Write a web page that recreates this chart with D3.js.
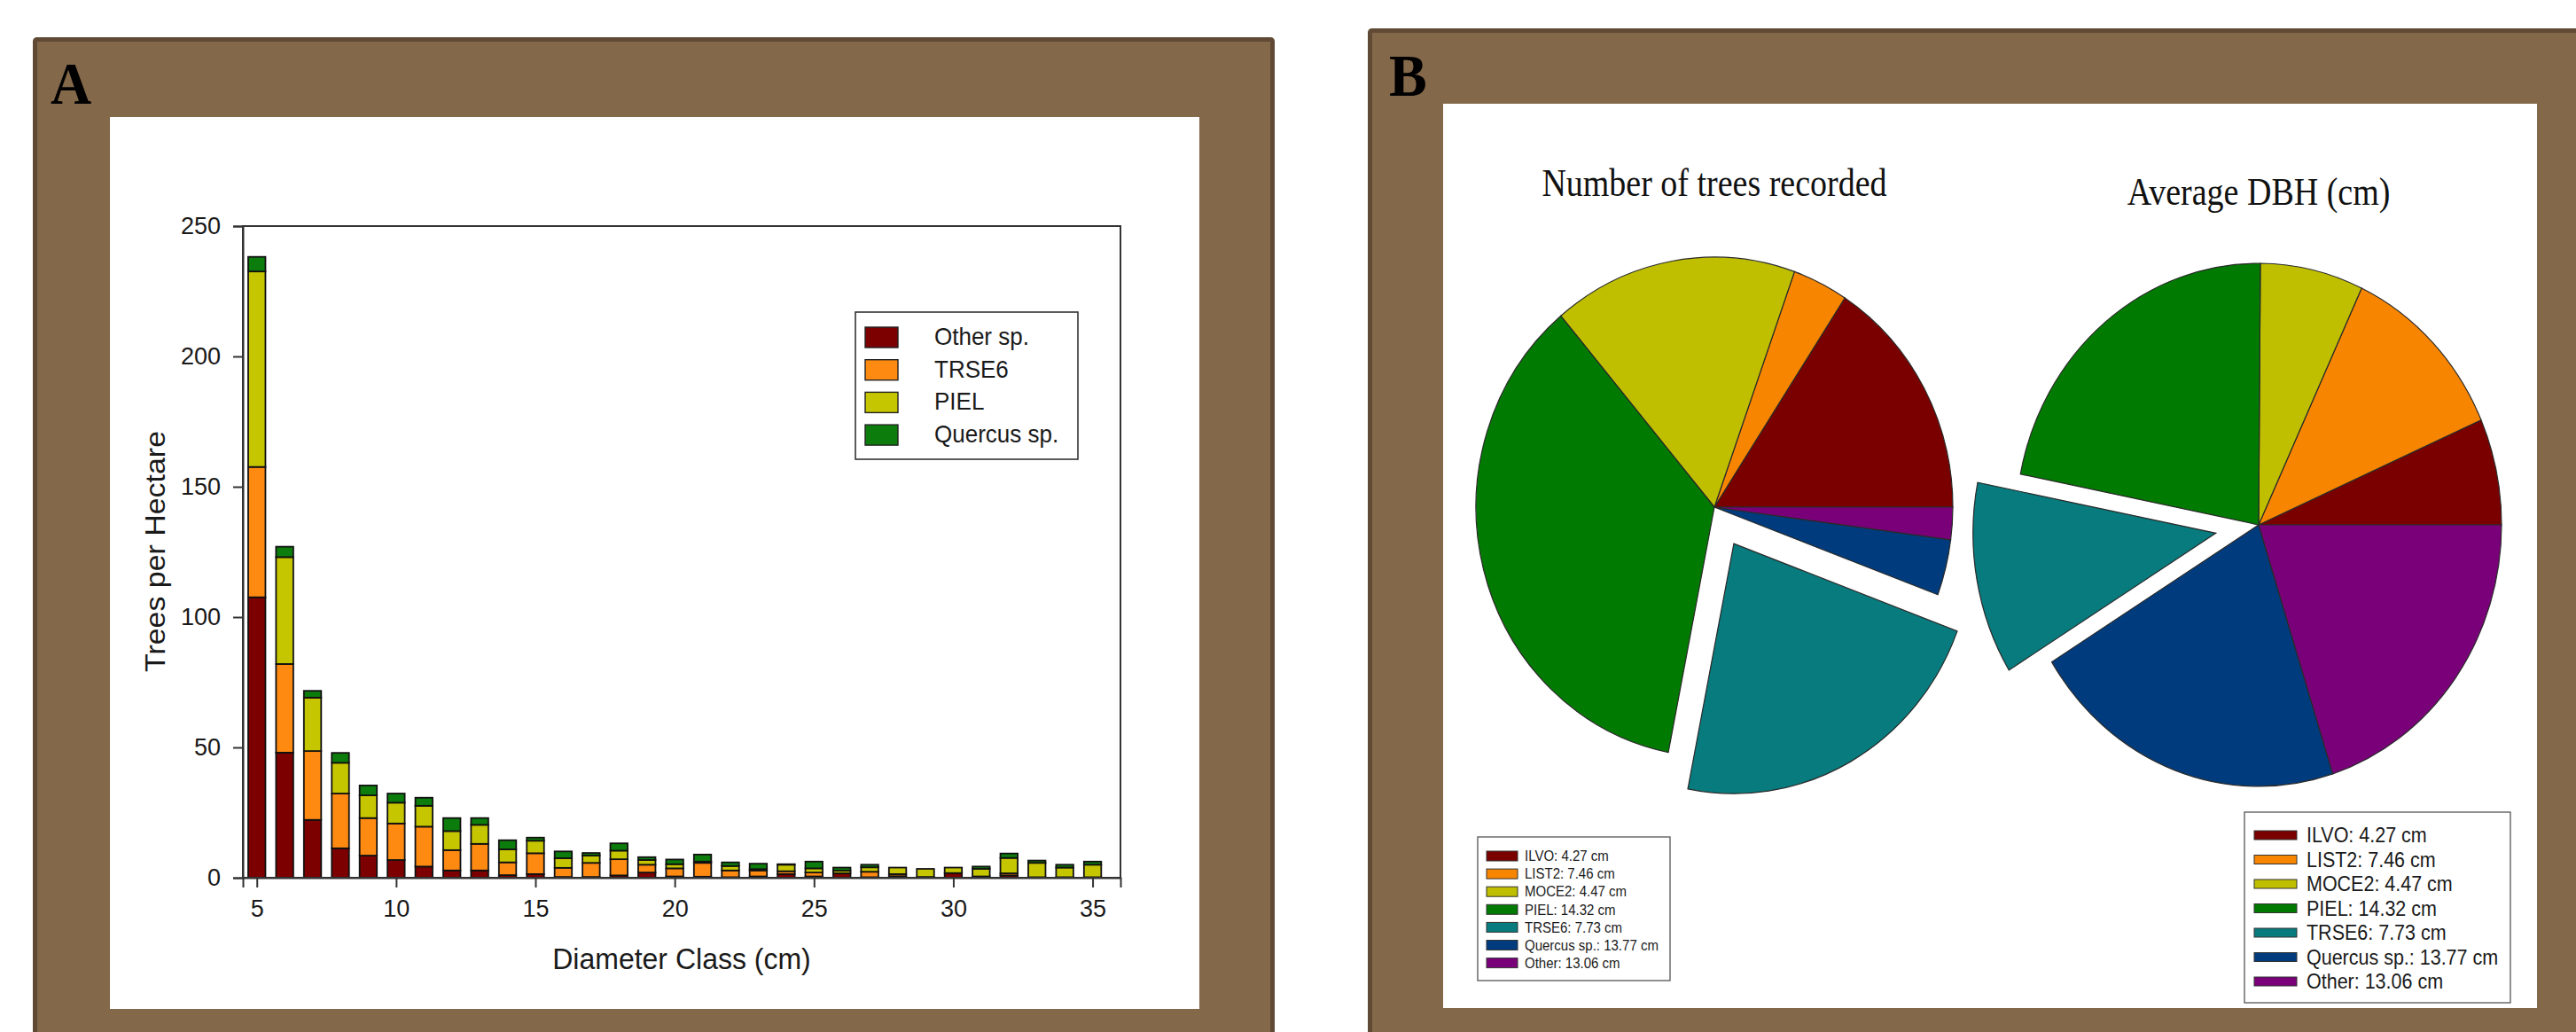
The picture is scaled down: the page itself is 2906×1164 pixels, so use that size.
<!DOCTYPE html>
<html>
<head>
<meta charset="utf-8">
<script src="https://cdn.jsdelivr.net/npm/d3@7"></script>
<style>
  html, body { margin: 0; padding: 0; background: #fff; }
  svg { display: block; }
</style>
</head>
<body>
<svg id="fig" width="2906" height="1164"></svg>
<script>
// ---------- Panel A: stand structure by diameter class ----------
const diameterClasses = [5, 6, 7, 8, 9, 10, 11, 12, 13, 14, 15, 16, 17, 18, 19, 20,
                         21, 22, 23, 24, 25, 26, 27, 28, 29, 30, 31, 32, 33, 34, 35];
const otherSp   = [107.6, 48, 22.2, 11.3, 8.5, 6.8, 4.3, 2.8, 2.8, 1.0, 1.4, 0.3, 0.3, 0.9, 2.0, 0.5,
                   0.4, 0.2, 0.5, 1.4, 0.5, 1.7, 0.2, 0.6, 0.3, 1.8, 0.5, 0.9, 0.2, 0.2, 0.2];
const trse6     = [50, 34, 26.4, 21, 14.4, 14, 15.3, 7.8, 10.2, 4.9, 8.0, 3.5, 5.4, 6.2, 3.0, 3.1,
                   5.3, 2.6, 2.3, 1.1, 1.5, 0, 2.1, 0.8, 0, 0, 0, 0.8, 0, 0, 0];
const piel      = [75, 41, 20.5, 11.8, 8.7, 8, 8, 7.3, 7.3, 5.0, 4.8, 3.7, 2.8, 3.3, 1.8, 1.6,
                   0.5, 1.7, 0.5, 2.5, 1.6, 1.0, 1.7, 2.5, 3.1, 2.1, 2.9, 5.9, 5.5, 3.7, 4.8];
const quercusSp = [5.6, 4, 2.6, 3.8, 3.8, 3.5, 3.1, 5.0, 2.6, 3.5, 1.2, 2.6, 1.0, 2.8, 1.1, 1.8,
                   2.7, 1.4, 2.1, 0.2, 2.6, 1.2, 1.0, 0, 0, 0, 0.9, 1.7, 0.9, 1.1, 1.2];
const barSeries = ["Other sp.", "TRSE6", "PIEL", "Quercus sp."];
const barColors = ["#7d0000", "#ff8a12", "#c6c600", "#0c7c0c"];
const yTicksA = [0, 50, 100, 150, 200, 250];
const xTicksA = [5, 10, 15, 20, 25, 30, 35];

// ---------- Panel B: species composition ----------
const species     = ["ILVO", "LIST2", "MOCE2", "PIEL", "TRSE6", "Quercus sp.", "Other"];
const treeShare   = [15.8, 3.75, 16.6, 35.8, 22.4, 3.6, 2.1];   // % of trees recorded
const averageDbh  = [4.27, 7.46, 4.47, 14.32, 7.73, 13.77, 13.06]; // cm
const pieColors   = ["#7a0000", "#f78500", "#bfbf00", "#007a00", "#077b7e", "#003c7d", "#7a007a"];
const legendLabels = species.map((s, i) => `${s}: ${averageDbh[i].toFixed(2)} cm`);

const svg = d3.select("#fig");
const SANS = "'Liberation Sans', Arial, sans-serif";
const SERIF = "'Liberation Serif', 'Times New Roman', serif";

// text that is slightly taller than its font's natural proportions
function tallText(parent, x, y, str, opts) {
  const k = opts.stretch || 1.06;
  const t = parent.append("text")
    .attr("transform", `translate(${x},${y})${opts.rotate ? ` rotate(${opts.rotate})` : ""} scale(${opts.rotate ? k : 1},${opts.rotate ? 1 : k})`)
    .attr("font-family", opts.family || SANS).attr("font-size", opts.size)
    .attr("fill", opts.fill || "#222").text(str);
  if (opts.anchor) t.attr("text-anchor", opts.anchor);
  if (opts.weight) t.attr("font-weight", opts.weight);
  return t;
}

// brown mounting frames
function frame(x, y, w, h, letter, lx, ly, inner) {
  svg.append("rect").attr("x", x).attr("y", y).attr("width", w).attr("height", h)
    .attr("fill", "#84684a").attr("stroke", "#604a35").attr("stroke-width", 5).attr("rx", 2);
  svg.append("rect").attr("x", inner[0]).attr("y", inner[1])
    .attr("width", inner[2] - inner[0]).attr("height", inner[3] - inner[1]).attr("fill", "#fff");
  tallText(svg, lx, ly, letter, { family: SERIF, weight: "bold", size: 64, fill: "#000", stretch: 1.07 });
}
frame(39.5, 44.5, 1396, 1160, "A", 57, 117, [124, 132, 1353, 1138]);
frame(1545.5, 34.5, 1400, 1170, "B", 1567, 108, [1628, 117, 2862, 1137]);

// ---------- Panel A chart ----------
const gA = svg.append("g");
const x = d3.scaleLinear().domain([4.5, 36]).range([274, 1264]);
const y = d3.scaleLinear().domain([0, 250]).range([990, 255]);

const rows = diameterClasses.map((d, i) => ({
  dc: d, "Other sp.": otherSp[i], "TRSE6": trse6[i], "PIEL": piel[i], "Quercus sp.": quercusSp[i]
}));
const stack = d3.stack().keys(barSeries)(rows);
const barW = x(5.31) - x(4.69);

stack.forEach((layer, li) => {
  gA.append("g").selectAll("rect").data(layer).join("rect")
    .attr("x", d => x(d.data.dc) - barW / 2)
    .attr("y", d => y(d[1]))
    .attr("width", barW)
    .attr("height", d => Math.max(0, y(d[0]) - y(d[1])))
    .attr("fill", barColors[li])
    .attr("stroke", "#111").attr("stroke-width", 1.8);
});

// plot frame
gA.append("rect").attr("x", x(4.5)).attr("y", y(250))
  .attr("width", x(36) - x(4.5)).attr("height", y(0) - y(250))
  .attr("fill", "none").attr("stroke", "#333").attr("stroke-width", 2);

const xAxis = gA.append("g").attr("transform", `translate(0,${y(0)})`)
  .call(d3.axisBottom(x).tickValues(xTicksA).tickSize(11).tickPadding(14));
const yAxis = gA.append("g").attr("transform", `translate(${x(4.5)},0)`)
  .call(d3.axisLeft(y).tickValues(yTicksA).tickSize(11).tickPadding(14));
[xAxis, yAxis].forEach(a => {
  a.select(".domain").attr("stroke", "#333").attr("stroke-width", 2);
  a.selectAll(".tick line").attr("stroke", "#333").attr("stroke-width", 2);
  a.selectAll(".tick text").attr("font-family", SANS).attr("font-size", 27).attr("fill", "#1a1a1a");
});

tallText(gA, 769, 1093, "Diameter Class (cm)", { size: 32, anchor: "middle", fill: "#1a1a1a" });
tallText(gA, 186, 622, "Trees per Hectare", { size: 32, anchor: "middle", rotate: -90, fill: "#1a1a1a" });

// legend A
const legA = gA.append("g");
legA.append("rect").attr("x", 965).attr("y", 352).attr("width", 251).attr("height", 166)
  .attr("fill", "#fff").attr("stroke", "#333").attr("stroke-width", 1.6);
barSeries.forEach((s, i) => {
  const ry = 369 + i * 36.7;
  legA.append("rect").attr("x", 976).attr("y", ry).attr("width", 37).attr("height", 23)
    .attr("fill", barColors[i]).attr("stroke", "#222").attr("stroke-width", 1.4);
  tallText(legA, 1054, ry + 20, s, { size: 26, fill: "#1a1a1a" });
});

// ---------- Panel B pies ----------
const arc = d3.arc().innerRadius(0).outerRadius(1);
function drawPie(values, cx, cy, rx, ry, explodeIdx, explodeBy, title, ty) {
  const arcs = d3.pie().sort(null).startAngle(Math.PI / 2).endAngle(Math.PI / 2 - 2 * Math.PI)(values);
  const g = svg.append("g").attr("transform", `translate(${cx},${cy})`);
  arcs.forEach((a, i) => {
    let dx = 0, dy = 0;
    if (i === explodeIdx) {
      const mid = (a.startAngle + a.endAngle) / 2;
      dx = Math.sin(mid) * explodeBy;
      dy = -Math.cos(mid) * explodeBy * (ry / rx);
    }
    g.append("path")
      .attr("d", arc(a))
      .attr("transform", `translate(${dx},${dy}) scale(${rx},${ry})`)
      .attr("fill", pieColors[i])
      .attr("stroke", "#2a2a2a").attr("stroke-width", 1.2)
      .attr("vector-effect", "non-scaling-stroke");
  });
  tallText(svg, cx, ty, title, { family: SERIF, size: 38, anchor: "middle", fill: "#111", stretch: 1.14 });
}
drawPie(treeShare, 1934, 572, 269, 282, 4, 45, "Number of trees recorded", 221);
drawPie(averageDbh, 2548, 592, 274, 295, 4, 49, "Average DBH (cm)", 231);

// pie legends
function pieLegend(bx, by, bw, bh, sx, sw, sh, tx, y0, step, fs) {
  const g = svg.append("g");
  g.append("rect").attr("x", bx).attr("y", by).attr("width", bw).attr("height", bh)
    .attr("fill", "#fff").attr("stroke", "#555").attr("stroke-width", 1.3);
  legendLabels.forEach((t, i) => {
    const cy = y0 + i * step;
    g.append("rect").attr("x", sx).attr("y", cy - sh / 2).attr("width", sw).attr("height", sh)
      .attr("fill", pieColors[i]).attr("stroke", "#333").attr("stroke-width", 1);
    tallText(g, tx, cy + fs * 0.38, t, { size: fs, fill: "#1a1a1a", stretch: 1.08 });
  });
}
pieLegend(1667, 944, 217, 162, 1677, 35, 11, 1720, 965.5, 20.1, 15);
pieLegend(2532, 916, 300, 215, 2543, 48, 10, 2602, 942, 27.5, 21.5);
</script>
</body>
</html>
